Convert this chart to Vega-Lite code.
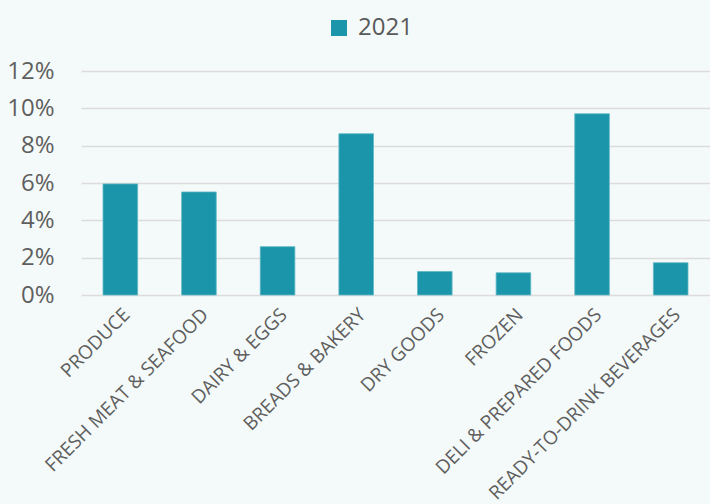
{
  "$schema": "https://vega.github.io/schema/vega-lite/v6.json",
  "autosize": "none",
  "padding": {"left": 81, "top": 71, "right": 0, "bottom": 209},
  "width": 629,
  "height": 224,
  "background": "#f4faf9",
  "config": {
    "view": {"stroke": null},
    "font": "Open Sans",
    "axis": {"labelFont": "Open Sans", "labelColor": "#5f5f5f"},
    "legend": {"labelFont": "Open Sans", "labelColor": "#595959"}
  },
  "data": {
    "values": [
      {"category": "PRODUCE", "year": "2021", "value": 0.0595},
      {"category": "FRESH MEAT & SEAFOOD", "year": "2021", "value": 0.0552},
      {"category": "DAIRY & EGGS", "year": "2021", "value": 0.0259},
      {"category": "BREADS & BAKERY", "year": "2021", "value": 0.0864},
      {"category": "DRY GOODS", "year": "2021", "value": 0.0126},
      {"category": "FROZEN", "year": "2021", "value": 0.0119},
      {"category": "DELI & PREPARED FOODS", "year": "2021", "value": 0.0971},
      {"category": "READY-TO-DRINK BEVERAGES", "year": "2021", "value": 0.0173}
    ]
  },
  "mark": {"type": "bar", "stroke": "#5fb9c6", "strokeWidth": 0.8},
  "encoding": {
    "x": {
      "field": "category",
      "type": "nominal",
      "sort": null,
      "scale": {"paddingInner": 0.56, "paddingOuter": 0.28},
      "axis": {
        "title": null,
        "labelAngle": -45,
        "labelFontSize": 19,
        "labelPadding": 10,
        "ticks": false,
        "domain": false,
        "labelLimit": 400
      }
    },
    "y": {
      "field": "value",
      "type": "quantitative",
      "scale": {"domain": [0, 0.12]},
      "axis": {
        "title": null,
        "format": ".0%",
        "values": [0, 0.02, 0.04, 0.06, 0.08, 0.1, 0.12],
        "labelFontSize": 24,
        "labelPadding": 27,
        "ticks": false,
        "domain": false,
        "gridColor": "#dcdcdc",
        "gridWidth": 1.5
      }
    },
    "color": {
      "field": "year",
      "type": "nominal",
      "scale": {"range": ["#1b95a9"]},
      "legend": {
        "title": null,
        "orient": "none",
        "legendX": 246,
        "legendY": -55,
        "symbolType": "square",
        "symbolSize": 256,
        "symbolStrokeWidth": 0,
        "labelFontSize": 24,
        "labelOffset": 7
      }
    }
  }
}
